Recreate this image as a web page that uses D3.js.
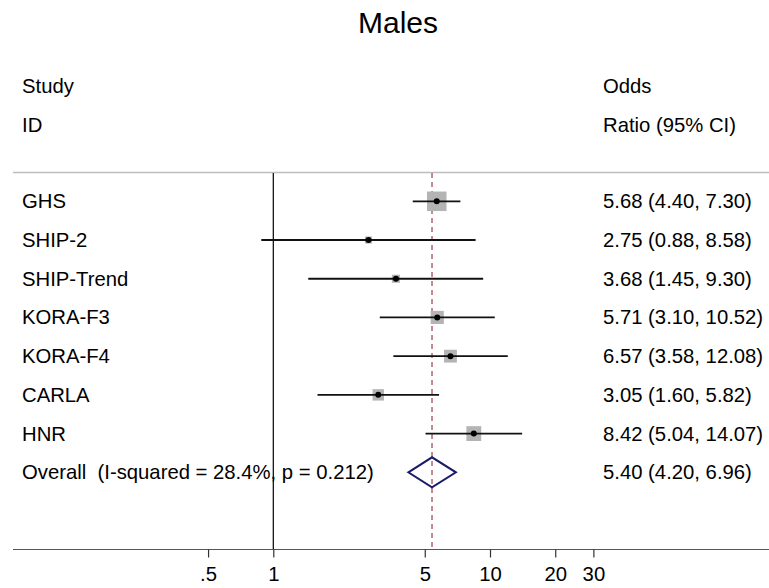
<!DOCTYPE html>
<html>
<head>
<meta charset="utf-8">
<script src="https://cdn.jsdelivr.net/npm/d3@7"></script>
<style>
  body { margin: 0; background: #fff; }
  svg text { font-family: "Liberation Sans", Arial, sans-serif; fill: #000; white-space: pre; }
</style>
</head>
<body>
<svg id="forest" width="769" height="588"></svg>
<script>
var studies = ["GHS", "SHIP-2", "SHIP-Trend", "KORA-F3", "KORA-F4", "CARLA", "HNR"];
var oddsRatio = [5.68, 2.75, 3.68, 5.71, 6.57, 3.05, 8.42];
var ciLower = [4.40, 0.88, 1.45, 3.10, 3.58, 1.60, 5.04];
var ciUpper = [7.30, 8.58, 9.30, 10.52, 12.08, 5.82, 14.07];
var weights = [32.1, 4.2, 5.5, 14.6, 13.9, 11.0, 18.6];
var overallLabel = "Overall  (I-squared = 28.4%, p = 0.212)";
var overall = [5.40, 4.20, 6.96];
var tickValues = [0.5, 1, 5, 10, 20, 30];
var tickLabels = [".5", "1", "5", "10", "20", "30"];

var svg = d3.select("#forest");
var W = 769;
var fs = "20.3px";

var x = d3.scaleLog().domain([1, 10]).range([273.3, 490]);
var rows = d3.range(studies.length + 1);
var y = d3.scalePoint().domain(rows).range([201.3, 472.3]);
var box = d3.scaleSqrt().domain([0, d3.max(weights)]).range([0, 19.5]);

var fmt = d3.format(".2f");

// title and headers
svg.append("text").attr("x", 398).attr("y", 33).attr("text-anchor", "middle")
  .attr("font-size", "30px").text("Males");

svg.append("text").attr("x", 22).attr("y", 93).attr("font-size", fs).text("Study");
svg.append("text").attr("x", 22).attr("y", 132).attr("font-size", fs).text("ID");
svg.append("text").attr("x", 603).attr("y", 93).attr("font-size", fs).text("Odds");
svg.append("text").attr("x", 603).attr("y", 132).attr("font-size", fs).text("Ratio (95% CI)");

// separator
svg.append("line").attr("x1", 13).attr("x2", W).attr("y1", 172.5).attr("y2", 172.5)
  .attr("stroke", "#bdbdbd").attr("stroke-width", 1.5);

// null line at 1
svg.append("line").attr("x1", x(1)).attr("x2", x(1)).attr("y1", 173).attr("y2", 549.5)
  .attr("stroke", "#000").attr("stroke-width", 1.2);

// overall dashed line
svg.append("line").attr("x1", x(overall[0])).attr("x2", x(overall[0]))
  .attr("y1", 173).attr("y2", 549)
  .attr("stroke", "#9c3f4e").attr("stroke-width", 1.2).attr("stroke-dasharray", "5,4");

// study rows
var data = studies.map(function (s, i) {
  return { name: s, or: oddsRatio[i], lo: ciLower[i], hi: ciUpper[i], w: weights[i], row: i };
});

var g = svg.append("g");
g.selectAll("rect.box").data(data).enter().append("rect")
  .attr("class", "box")
  .attr("x", function (d) { return x(d.or) - box(d.w) / 2; })
  .attr("y", function (d) { return y(d.row) - box(d.w) / 2; })
  .attr("width", function (d) { return box(d.w); })
  .attr("height", function (d) { return box(d.w); })
  .attr("fill", "#b4b4b4");

g.selectAll("line.ci").data(data).enter().append("line")
  .attr("class", "ci")
  .attr("x1", function (d) { return x(d.lo); })
  .attr("x2", function (d) { return x(d.hi); })
  .attr("y1", function (d) { return y(d.row); })
  .attr("y2", function (d) { return y(d.row); })
  .attr("stroke", "#111").attr("stroke-width", 1.8);

g.selectAll("circle").data(data).enter().append("circle")
  .attr("cx", function (d) { return x(d.or); })
  .attr("cy", function (d) { return y(d.row); })
  .attr("r", 3).attr("fill", "#000");

g.selectAll("text.name").data(data).enter().append("text")
  .attr("class", "name")
  .attr("x", 22).attr("y", function (d) { return y(d.row) + 7; })
  .attr("font-size", fs)
  .text(function (d) { return d.name; });

g.selectAll("text.est").data(data).enter().append("text")
  .attr("class", "est")
  .attr("x", 603).attr("y", function (d) { return y(d.row) + 7; })
  .attr("font-size", fs)
  .text(function (d) { return fmt(d.or) + " (" + fmt(d.lo) + ", " + fmt(d.hi) + ")"; });

// overall diamond
var oy = y(studies.length);
svg.append("path")
  .attr("d", "M" + x(overall[1]) + "," + oy +
    "L" + x(overall[0]) + "," + (oy - 15) +
    "L" + x(overall[2]) + "," + oy +
    "L" + x(overall[0]) + "," + (oy + 15) + "Z")
  .attr("fill", "none").attr("stroke", "#1b1b6b").attr("stroke-width", 2);

svg.append("text").attr("x", 22).attr("y", oy + 7).attr("font-size", fs).text(overallLabel);
svg.append("text").attr("x", 603).attr("y", oy + 7).attr("font-size", fs)
  .text(fmt(overall[0]) + " (" + fmt(overall[1]) + ", " + fmt(overall[2]) + ")");

// x axis
svg.append("line").attr("x1", 13).attr("x2", W).attr("y1", 549.5).attr("y2", 549.5)
  .attr("stroke", "#555").attr("stroke-width", 1.2);

var axis = svg.append("g")
  .attr("transform", "translate(0,549.5)")
  .call(d3.axisBottom(x).tickValues(tickValues)
    .tickFormat(function (d, i) { return tickLabels[i]; })
    .tickSize(8).tickPadding(9));
axis.select(".domain").remove();
axis.selectAll(".tick line").attr("stroke", "#333").attr("stroke-width", 1.2);
axis.selectAll(".tick text").attr("font-size", fs)
  .attr("font-family", "Liberation Sans, Arial, sans-serif").attr("fill", "#000");
</script>
</body>
</html>
